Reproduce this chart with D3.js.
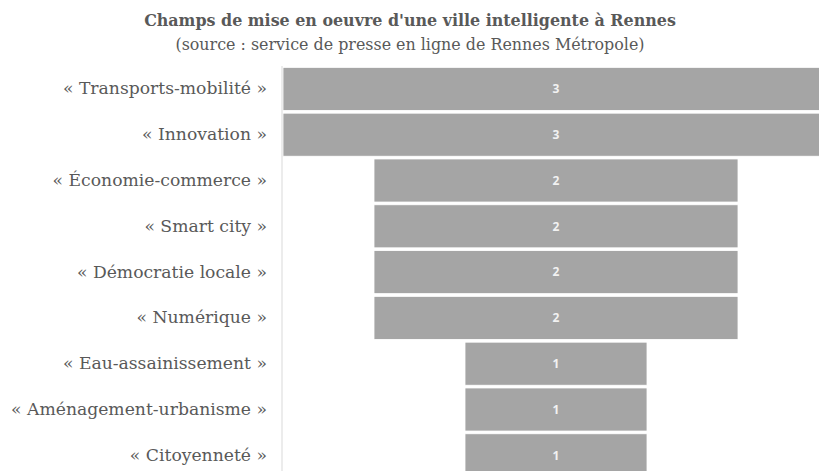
<!DOCTYPE html>
<html lang="fr">
<head>
<meta charset="UTF-8">
<title>Villes intelligentes - Rennes</title>
<script src="https://cdn.jsdelivr.net/npm/d3@7"></script>
<style>
    html, body { margin: 0; background: #fff; }
    svg { display: block; }
</style>
</head>
<body>
<div id="chart"></div>
<script>
    // chart data
    const categories = [
        "« Transports-mobilité »",
        "« Innovation »",
        "« Économie-commerce »",
        "« Smart city »",
        "« Démocratie locale »",
        "« Numérique »",
        "« Eau-assainissement »",
        "« Aménagement-urbanisme »",
        "« Citoyenneté »"
    ];
    const counts = [3, 3, 2, 2, 2, 2, 1, 1, 1];

    const title = "Champs de mise en oeuvre d'une ville intelligente à Rennes";
    const subtitle = "(source : service de presse en ligne de Rennes Métropole)";

    const width = 819, height = 471;
    const axisX = 282;      // left edge of plot area
    const centerX = 556;    // bars are centred on this
    const plotTop = 66;
    const serif = "'DejaVu Serif', serif";

    const svg = d3.select("#chart").append("svg")
        .attr("width", width)
        .attr("height", height);

    const rows = categories.map((c, i) => ({ name: c, value: counts[i] }));

    const y = d3.scaleBand()
        .domain(categories)
        .range([plotTop, plotTop + 45.8 * categories.length])
        .paddingInner(0.06)
        .paddingOuter(0.03);

    const w = d3.scaleLinear()
        .domain([0, 3])
        .range([0, 546]);

    // title
    svg.append("text")
        .attr("x", 410).attr("y", 26)
        .attr("text-anchor", "middle")
        .attr("font-family", serif)
        .attr("font-weight", "bold")
        .attr("font-size", 15.9)
        .attr("fill", "#595959")
        .text(title);
    svg.append("text")
        .attr("x", 410).attr("y", 50)
        .attr("text-anchor", "middle")
        .attr("font-family", serif)
        .attr("font-size", 15.9)
        .attr("fill", "#595959")
        .text(subtitle);

    // bars clipped to the plot area
    svg.append("clipPath").attr("id", "plot")
        .append("rect")
        .attr("x", axisX).attr("y", 0)
        .attr("width", width - axisX).attr("height", height);

    const bars = svg.append("g").attr("clip-path", "url(#plot)");

    bars.selectAll("rect")
        .data(rows)
        .join("rect")
        .attr("x", d => centerX - w(d.value) / 2)
        .attr("y", d => y(d.name))
        .attr("width", d => w(d.value))
        .attr("height", y.bandwidth())
        .attr("fill", "#a5a5a5")
        .attr("stroke", "#ffffff")
        .attr("stroke-width", 0.8);

    bars.selectAll("text")
        .data(rows)
        .join("text")
        .attr("x", centerX)
        .attr("y", d => y(d.name) + y.bandwidth() / 2)
        .attr("dy", "0.35em")
        .attr("text-anchor", "middle")
        .attr("font-family", "'Open Sans', sans-serif")
        .attr("font-weight", "bold")
        .attr("font-size", 12)
        .attr("fill", "#f2f2f2")
        .text(d => d.value);

    // category axis
    const yAxis = d3.axisLeft(y).tickSize(0).tickPadding(15);
    const ax = svg.append("g")
        .attr("transform", `translate(${axisX},0)`)
        .call(yAxis);
    ax.select(".domain")
        .attr("stroke", "#d9d9d9")
        .attr("d", `M0,${plotTop}V${height}`);
    ax.selectAll("text")
        .attr("font-family", serif)
        .attr("font-size", 17.2)
        .attr("fill", "#595959");
</script>
</body>
</html>
